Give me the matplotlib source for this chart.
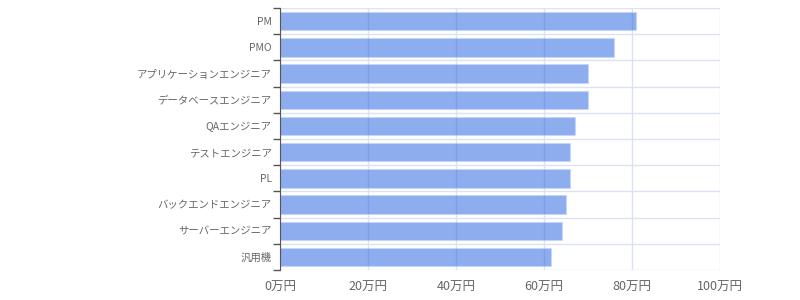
import numpy as np
import matplotlib.pyplot as plt
from matplotlib.ticker import FuncFormatter

plt.rcParams['font.family'] = ['Noto Sans CJK JP', 'DejaVu Sans']

# 職種別の平均月単価（万円）
roles = ["PM", "PMO", "アプリケーションエンジニア", "データベースエンジニア", "QAエンジニア",
         "テストエンジニア", "PL", "バックエンドエンジニア", "サーバーエンジニア", "汎用機"]
prices = [81, 76, 70, 70, 67, 66, 66, 65, 64, 61.5]
xticks = [0, 20, 40, 60, 80, 100]

fig = plt.figure(figsize=(8, 3), dpi=100)
ax = fig.add_axes([0.35, 0.1, 0.55, 0.873])

y = np.arange(len(roles))
ax.barh(y, prices, height=0.7, color='#1d5de1', alpha=0.5, edgecolor='#c5d5f7', linewidth=0.8, zorder=2)

ax.set_xlim(0, 100)
ax.set_ylim(len(roles) - 0.5, -0.5)
ax.set_xticks(xticks)
ax.xaxis.set_major_formatter(FuncFormatter(lambda v, p: f"{int(v)}万円"))
ax.set_yticks(y)
ax.set_yticklabels(roles)
ax.set_yticks(np.arange(-0.5, len(roles), 1), minor=True)

ax.grid(True, axis='x', color='#dbe2f2', linewidth=1, zorder=1)
ax.grid(True, axis='y', which='minor', color='#dbe2f2', linewidth=1, zorder=1)
ax.set_axisbelow(True)

for s in ['top', 'right', 'bottom']:
    ax.spines[s].set_visible(False)
ax.spines['left'].set_color('#555555')
ax.spines['left'].set_zorder(4)

ax.tick_params(axis='y', which='major', length=0, labelsize=7.5, labelcolor='#666666', pad=6)
ax.tick_params(axis='y', which='minor', length=5, color='#555555', width=1)
ax.tick_params(axis='x', length=0, labelsize=9, labelcolor='#666666', pad=8)

fig.savefig("out.png")
